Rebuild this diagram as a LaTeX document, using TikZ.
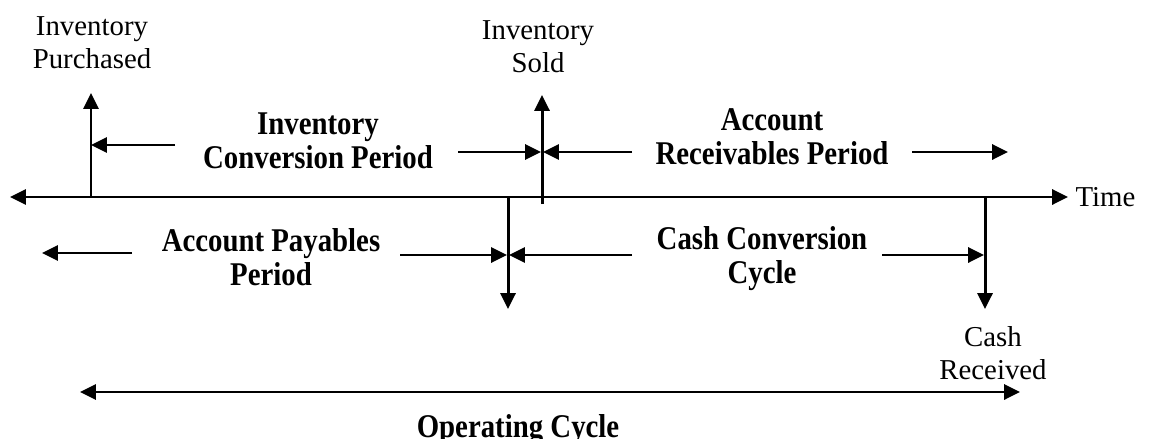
\documentclass[tikz,border=0pt]{standalone}
\usepackage{fontspec}
\setmainfont{Liberation Serif}
\usetikzlibrary{arrows.meta, positioning}

\begin{document}
\begin{tikzpicture}[x=0.02cm, y=-0.02cm, line width=1.7pt,
    tip/.style={-{Triangle[length=9pt,width=8.5pt]}},
    twotip/.style={{Triangle[length=9pt,width=8.5pt]}-{Triangle[length=9pt,width=8.5pt]}},
    lbl/.style={align=center, inner sep=0pt, font=\fontsize{16.4}{18.6}\selectfont},
    blbl/.style={align=center, inner sep=0pt, yscale=1.15, transform shape,
      font=\fontsize{16.4}{16.8}\selectfont\bfseries}]
  \useasboundingbox (0,0) rectangle (1162,439);

  % time axis
  \coordinate (axL) at (10,197);
  \coordinate (axR) at (1068,197);
  \draw[twotip] (axL) -- (axR);
  \node[lbl, anchor=west] (time) at (1074,197) {Time};

  % events on the axis
  \coordinate (buyB) at (91,197);   \coordinate (buyT) at (91,93);
  \coordinate (soldB) at (542,204); \coordinate (soldT) at (542,95);
  \coordinate (payT) at (508,197);  \coordinate (payB) at (508,309);
  \coordinate (cashT) at (985,197); \coordinate (cashB) at (985,309);
  \draw[tip] (buyB) -- (buyT);
  \draw[tip] (soldB) -- (soldT);
  \draw[tip] (payT) -- (payB);
  \draw[tip] (cashT) -- (cashB);

  \node[lbl] (buy) at (92,43) {Inventory\\Purchased};
  \node[lbl] (sold) at (538,47) {Inventory\\Sold};
  \node[lbl] (cash) at (993,353) {Cash\\Received};

  % periods above the axis
  \node[blbl] (icp) at (318,141) {Inventory\\Conversion Period};
  \coordinate (icpL) at (175,145); \coordinate (icpR) at (458,152);
  \draw[tip] (icpL) -- (buyB |- icpL);
  \draw[tip] (icpR) -- (541,152);

  \node[blbl] (arp) at (772,137) {Account\\Receivables Period};
  \coordinate (arpL) at (632,152); \coordinate (arpR) at (912,152);
  \draw[tip] (arpL) -- (543,152);
  \draw[tip] (arpR) -- (1008,152);

  % periods below the axis
  \node[blbl] (app) at (271,257) {Account Payables\\Period};
  \coordinate (appL) at (132,253); \coordinate (appR) at (400,255);
  \draw[tip] (appL) -- (42,253);
  \draw[tip] (appR) -- (507,255);

  \node[blbl] (ccc) at (762,259) {Cash Conversion\\Cycle};
  \coordinate (cccL) at (632,255); \coordinate (cccR) at (882,255);
  \draw[tip] (cccL) -- (509,255);
  \draw[tip] (cccR) -- (984,255);

  % operating cycle
  \coordinate (opL) at (80,392); \coordinate (opR) at (1020,392);
  \draw[twotip] (opL) -- (opR);
  \node[blbl] (op) at (518,430) {Operating Cycle};
\end{tikzpicture}
\end{document}
